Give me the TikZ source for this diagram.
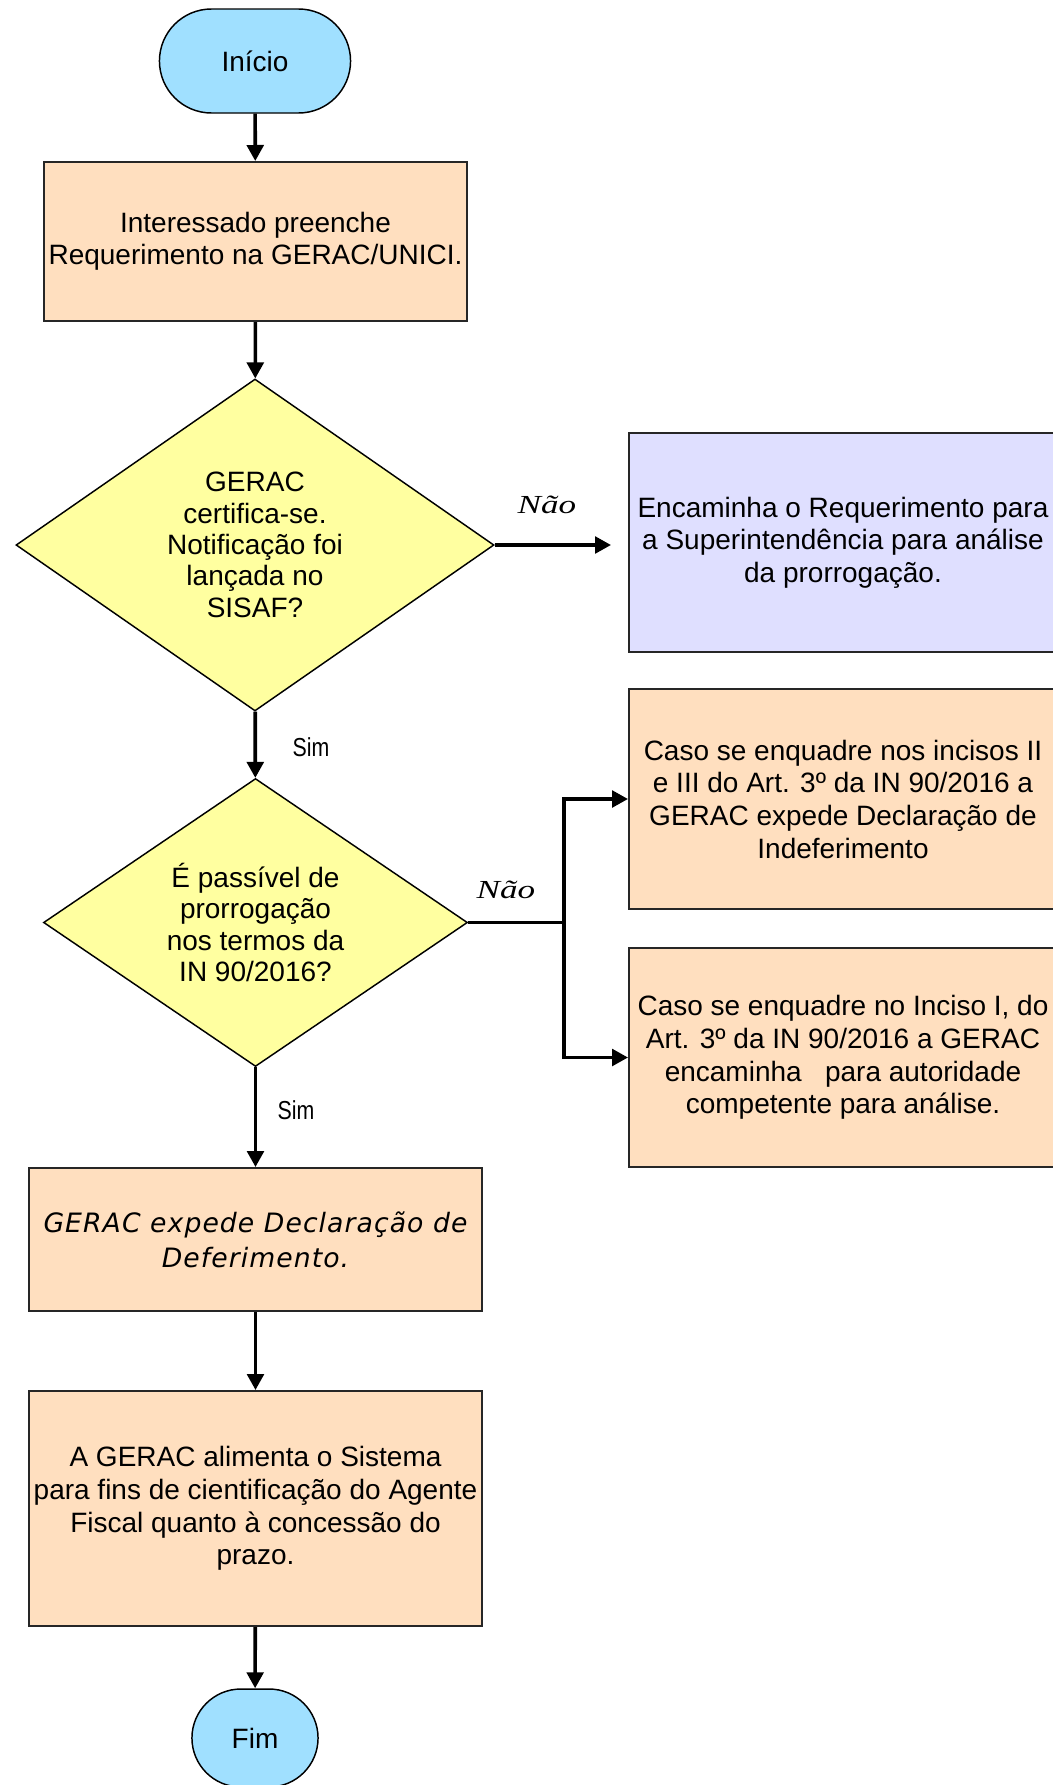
\documentclass[tikz,border=0pt]{standalone}
\usepackage{fontspec}
\setmainfont{Liberation Sans}
\newfontfamily\naofont[FakeStretch=1.35]{Liberation Serif}
\newfontfamily\simfont[FakeStretch=0.82]{Liberation Sans}
\newfontfamily\deferfont[LetterSpace=4]{DejaVu Sans}
\usetikzlibrary{shapes.geometric,shapes.misc,arrows.meta}
\definecolor{ovalblue}{RGB}{160,224,255}
\definecolor{boxpeach}{RGB}{255,223,191}
\definecolor{boxlilac}{RGB}{223,223,255}
\definecolor{diayellow}{RGB}{255,255,160}
\tikzset{
  term/.style={rounded rectangle, draw, line width=1.1pt, fill=ovalblue},
  procbox/.style={rectangle, draw=black!85, line width=1.5pt, fill=boxpeach},
  decision/.style={diamond, draw, line width=1.1pt, fill=diayellow, inner sep=0pt},
  flow/.style={-{Triangle[length=12pt,width=12.5pt]}, line width=2.7pt},
  simlabel/.style={font={\simfont\fontsize{19.5pt}{20pt}\selectfont}},
  naolabel/.style={font={\naofont\itshape\fontsize{19.5pt}{20pt}\selectfont}}
}
\begin{document}
\begin{tikzpicture}[x=0.75pt,y=-0.75pt,every node/.style={font=\fontsize{21pt}{23.5pt}\selectfont, align=center}]
\useasboundingbox (0,0) rectangle (1053,1785);
% main column
\node[term, minimum width=150pt, minimum height=78pt] (inicio) at (255,61) {Início};
\node[procbox, minimum width=317.25pt, minimum height=119.25pt, font=\fontsize{21pt}{24pt}\selectfont] (req) at (255.5,241.5) {Interessado preenche\\Requerimento na GERAC/UNICI.};
\node[decision, minimum width=358.5pt, minimum height=249pt, shape aspect=1.44] (sisaf) at (255,545) {GERAC\\certifica-se.\\Notificação foi\\lançada no\\SISAF?};
\node[decision, minimum width=318pt, minimum height=216pt, shape aspect=1.47] (passivel) at (255.5,922.5) {É passível de\\prorrogação\\nos termos da\\IN 90/2016?};
\node[procbox, minimum width=339.75pt, minimum height=107.25pt, font={\deferfont\itshape\fontsize{20pt}{26.5pt}\selectfont}] (deferido) at (255.5,1239.5) {GERAC expede Declaração de\\Deferimento.};
\node[procbox, minimum width=339.75pt, minimum height=176.25pt, font=\fontsize{21pt}{24.5pt}\selectfont] (sistema) at (255.5,1508.5) {A GERAC alimenta o Sistema\\para fins de cientificação do Agente\\Fiscal quanto à concessão do\\prazo.};
\node[term, minimum width=101.25pt, minimum height=73.5pt] (fim) at (255,1738) {Fim};
% right column
\node[procbox, fill=boxlilac, minimum width=321pt, minimum height=164.25pt, font=\fontsize{21pt}{24.5pt}\selectfont] (superint) at (843,542.5) {Encaminha o Requerimento para\\a Superintendência para análise\\da prorrogação.};
\node[procbox, minimum width=321pt, minimum height=165pt, font=\fontsize{21pt}{24.5pt}\selectfont] (indef) at (843,799) {Caso se enquadre nos incisos II\\e III do Art. 3º da IN 90/2016 a\\GERAC expede Declaração de\\Indeferimento};
\node[procbox, minimum width=321pt, minimum height=164.25pt, font=\fontsize{21pt}{24.5pt}\selectfont] (autoridade) at (843,1057.5) {Caso se enquadre no Inciso I, do\\Art. 3º da IN 90/2016 a GERAC\\encaminha \ \ para autoridade\\competente para análise.};
% labels
\node[simlabel] (sim1) at (311,747) {Sim};
\node[simlabel] (sim2) at (296,1110) {Sim};
\node[naolabel] (nao1) at (547,505) {Não};
\node[naolabel] (nao2) at (506,890) {Não};
\coordinate (split) at (564,922.5);
% connectors
\draw[flow] (inicio) -- (req);
\draw[flow] (req) -- (sisaf);
\draw[flow, shorten >=12.75pt] (sisaf.east) -- (sisaf.east -| superint.west);
\draw[flow] (sisaf) -- (passivel);
\draw[flow] (passivel.east) -- (split) |- (indef.west);
\draw[flow] (split) |- (autoridade.west);
\draw[flow] (passivel) -- (deferido);
\draw[flow] (deferido) -- (sistema);
\draw[flow] (sistema) -- (fim);
\end{tikzpicture}
\end{document}
